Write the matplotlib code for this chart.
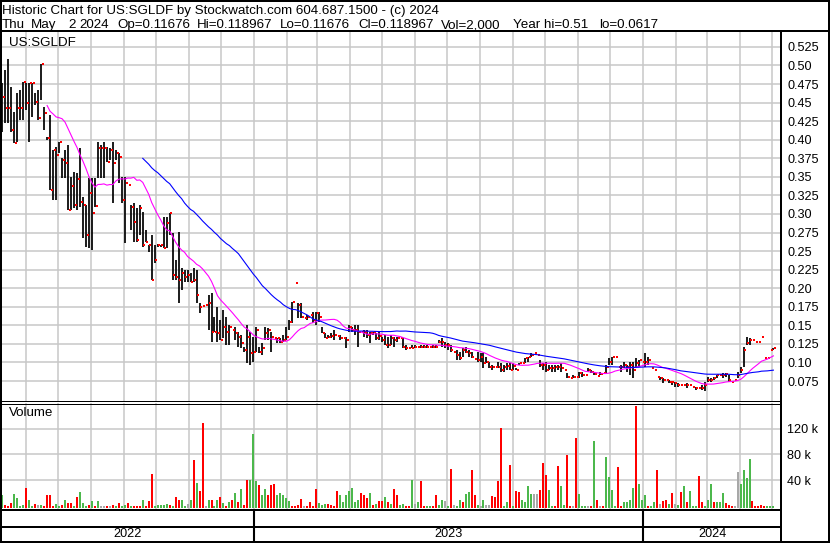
import numpy as np
import pandas as pd
import matplotlib
matplotlib.use("Agg")
import matplotlib.pyplot as plt
import matplotlib.dates as mdates
from matplotlib.lines import Line2D

plt.rcParams['font.family'] = ['Liberation Sans', 'DejaVu Sans']

# ---------------- data (one bar ~ every second trading day) ----------------
first_date = '2022-05-10'
last_date = '2024-05-02'

high = [
    .476, .494, .509, .471, .437, .463, .467, .478, .476, .476,
    .476, .463, .467, .502, .444, .403, .433, .386, .390, .397,
    .375, .386, .393, .350, .356, .355, .389, .323, .312, .348,
    .348, .348, .397, .393, .397, .390, .389, .397, .386, .382,
    .350, .350, .339, .312, .315, .308, .312, .303, .278, .258,
    .272, .258, .260, .258, .296, .296, .301, .274, .238, .276,
    .227, .224, .224, .220, .227, .224, .180, .176, .178, .191,
    .194, .161, .175, .157, .171, .161, .150, .144, .148, .141,
    .137, .121, .150, .141, .134, .148, .121, .126, .148, .146,
    .141, .133, .133, .133, .137, .148, .157, .181, .207, .180,
    .180, .160, .164, .164, .168, .168, .168, .148, .140, .137,
    .140, .144, .136, .137, .133, .134, .150, .148, .150, .150,
    .141, .144, .144, .141, .141, .140, .141, .134, .137, .134,
    .137, .134, .134, .133, .133, .1235, .1195, .1235, .1235, .121,
    .1235, .1235, .1235, .121, .1235, .1235, .130, .133, .128, .126,
    .1235, .114, .117, .114, .1195, .121, .117, .114, .104, .114,
    .113, .113, .107, .1006, .097, .094, .1006, .099, .0966, .099,
    .099, .099, .092, .099, .099, .106, .107, .113, .113, .110,
    .103, .099, .1006, .0966, .0966, .0966, .0966, .099, .090, .086,
    .079, .083, .080, .087, .087, .083, .0925, .090, .087, .082,
    .087, .086, .0966, .106, .107, .107, .094, .0966, .1006, .0966,
    .1006, .1006, .106, .103, .101, .113, .107, .0925, .090, .080,
    .080, .079, .077, .077, .0737, .0737, .0723, .0696, .0696, .0723,
    .0696, .067, .067, .0656, .0696, .0737, .080, .079, .080, .083,
    .083, .086, .086, .083, .0737, .077, .087, .094, .121, .134,
    .133, .130, .128, .128, .134, .106, .106, .117, .119,
]

low = [
    .410, .423, .423, .410, .396, .397, .427, .427, .440, .397,
    .430, .447, .427, .454, .413, .400, .332, .319, .319, .382,
    .348, .348, .305, .305, .308, .305, .309, .268, .255, .254,
    .251, .309, .348, .348, .348, .370, .373, .315, .373, .342,
    .315, .261, .339, .278, .262, .262, .272, .255, .262, .249,
    .211, .234, .255, .256, .254, .254, .272, .211, .211, .180,
    .198, .208, .208, .208, .208, .180, .167, .176, .178, .144,
    .128, .141, .128, .130, .133, .1235, .1235, .144, .130, .121,
    .119, .114, .099, .0966, .1006, .114, .113, .110, .130, .130,
    .114, .133, .126, .126, .128, .130, .144, .153, .207, .160,
    .160, .160, .157, .164, .153, .150, .154, .140, .133, .133,
    .133, .130, .136, .130, .133, .1195, .141, .141, .137, .121,
    .141, .134, .133, .126, .137, .130, .130, .128, .1235, .1195,
    .1235, .121, .128, .133, .1195, .117, .1195, .1195, .1195, .121,
    .1195, .1195, .1195, .121, .1195, .1195, .126, .121, .1195, .117,
    .114, .114, .103, .103, .107, .113, .107, .106, .104, .1006,
    .1006, .0925, .099, .0925, .090, .094, .0925, .087, .087, .090,
    .090, .090, .090, .0966, .099, .099, .1006, .107, .113, .110,
    .094, .090, .087, .090, .087, .087, .090, .087, .090, .079,
    .079, .079, .080, .079, .080, .083, .087, .086, .083, .082,
    .083, .086, .086, .0966, .0966, .107, .094, .087, .0925, .087,
    .083, .079, .094, .094, .101, .094, .0966, .0925, .090, .080,
    .077, .0723, .077, .0723, .0696, .067, .067, .0696, .0696, .0656,
    .0696, .067, .0629, .0656, .0629, .0617, .0737, .0737, .077, .079,
    .083, .079, .080, .0737, .0737, .077, .079, .086, .094, .1235,
    .1235, .130, .128, .128, .134, .106, .106, .117, .1168,
]

close = [
    .457, .443, .443, .413, .396, .443, .443, .478, .449, .476,
    .476, .451, .429, .502, .436, .402, .332, .386, .379, .397,
    .373, .369, .305, .338, .312, .347, .316, .312, .272, .328,
    .301, .311, .389, .389, .389, .370, .386, .369, .382, .377,
    .319, .342, .339, .309, .289, .265, .308, .258, .262, .258,
    .211, .238, .258, .258, .254, .288, .301, .218, .215, .211,
    .220, .215, .218, .208, .211, .191, .175, .176, .178, .180,
    .141, .141, .140, .130, .148, .141, .148, .144, .140, .134,
    .126, .117, .134, .113, .114, .144, .114, .1195, .140, .144,
    .134, .133, .133, .128, .130, .134, .154, .181, .207, .177,
    .161, .160, .161, .164, .157, .166, .161, .140, .133, .134,
    .136, .137, .136, .133, .133, .130, .148, .144, .144, .141,
    .141, .141, .137, .140, .141, .133, .136, .130, .1235, .1235,
    .133, .130, .133, .133, .121, .1195, .1195, .1195, .121, .121,
    .121, .121, .121, .121, .121, .121, .128, .128, .1235, .1235,
    .117, .114, .110, .106, .117, .114, .113, .107, .104, .103,
    .107, .099, .101, .094, .094, .094, .094, .090, .094, .095,
    .090, .095, .090, .099, .099, .106, .107, .110, .113, .110,
    .0966, .0966, .090, .0925, .092, .094, .094, .092, .090, .080,
    .079, .080, .080, .086, .083, .083, .090, .087, .085, .082,
    .084, .086, .094, .1006, .107, .107, .094, .094, .0966, .094,
    .0966, .090, .099, .103, .101, .1006, .103, .0925, .090, .080,
    .079, .077, .077, .0737, .0737, .0723, .070, .0696, .0696, .0696,
    .0696, .067, .0656, .0656, .0656, .0696, .077, .077, .079, .083,
    .083, .083, .084, .077, .0737, .077, .083, .090, .117, .126,
    .130, .130, .128, .128, .134, .106, .106, .117, .119,
]

volume_k = [
    17, 2, 0.5, 4.4, 19, 12, 0.5, 2, 27.5, 9.5,
    0.5, 3, 2, 2, 0.5, 17, 17, 0.5, 3, 0.5,
    2, 9.5, 4.4, 5.5, 0.5, 15, 22, 4.4, 0.5, 2,
    8, 0.5, 8, 0.5, 0.5, 1, 0.5, 2, 0.5, 4.4,
    0.5, 2, 4.4, 0.5, 1, 1, 1, 9.5, 0.5, 8,
    50, 1, 2, 2, 2, 3, 2, 0.5, 15, 9.5,
    9.5, 0.5, 3, 9.5, 71, 36, 23, 129, 0.5, 10,
    10, 0.5, 10, 15, 4.4, 0.5, 7, 9.5, 20, 7,
    26, 2, 40, 40, 112, 39, 32, 17, 27, 17,
    33, 35, 17, 20, 17, 12, 8, 0.5, 0.5, 2,
    11, 0.5, 0.5, 7, 1, 27, 5, 2, 3, 3,
    2, 1, 23, 17, 7, 17, 23, 27.5, 7, 10,
    21, 18, 12, 21, 2, 3, 8, 8, 15, 7,
    4, 26, 18, 2, 3, 1, 1, 41, 4, 6,
    39, 0.5, 0.5, 0.5, 0.5, 17, 2, 10, 8, 0.5,
    57, 2, 0.5, 10, 7, 19, 22, 56, 17, 2,
    0.5, 10, 2, 2, 16, 15, 39, 121, 0.5, 7,
    63.5, 0.5, 23, 22, 9.5, 7, 31, 19, 19, 19,
    25, 67, 48, 25, 0.5, 0.5, 62.5, 31.6, 2, 79,
    0.5, 0.5, 106, 19, 0.5, 0.5, 0.5, 0.5, 100, 9.5,
    0.5, 0.5, 76, 45.6, 25, 0.5, 61, 0.5, 7, 6,
    10, 27.5, 154, 34, 10, 17, 0.5, 0.5, 7, 56,
    3, 8, 9.5, 3, 20, 3, 2, 22.5, 31.6, 7,
    23, 0.5, 0.5, 47, 6, 0.5, 10, 35, 7, 7,
    7, 21, 5, 2, 0.5, 0.5, 53, 34, 56, 44,
    73, 8, 1, 0.5, 2, 0.5, 0.5, 0.5, 0.5,
]

# G = up day, R = down day, A = unchanged
volume_dir = (
    "GRRRGGGGRG" "GRAGRRRRGG" "RGRRGRGGGR" "GRGAARARGR"
    "GGRGRRRGRR" "RGGGGGRGRR" "GGAGRGRRAG" "RGGRGRGRGR"
    "GRRGGGRGGR" "RRGGGGGRRR" "RARRRRGGGR" "RRRGGGGGGG"
    "RRRGRGRRGR" "GRRGGRRGAG" "RRGGRRGGAG" "RAGGRGGRRG"
    "AGAARRRRGG" "RGRRGGGGAA" "RRRGGRRGGR" "RARGGGARGR"
    "ARGGGGRRGG" "GGRGGGRGGR" "ARRGRAGRGR" "GGGRRGGGRG"
    "GGRRRAAGGG" "GRRRRRGGG"
)

price_ticks = [0.525, 0.50, 0.475, 0.45, 0.425, 0.40, 0.375, 0.35, 0.325,
               0.30, 0.275, 0.25, 0.225, 0.20, 0.175, 0.15, 0.125, 0.10, 0.075]
price_labels = ['0.525', '0.50', '0.475', '0.45', '0.425', '0.40', '0.375', '0.35',
                '0.325', '0.30', '0.275', '0.25', '0.225', '0.20', '0.175', '0.15',
                '0.125', '0.10', '0.075']
vol_ticks = [40000, 80000, 120000]
vol_labels = ['40 k', '80 k', '120 k']
year_labels = ['2022', '2023', '2024']

title_line = "Historic Chart for US:SGLDF by Stockwatch.com 604.687.1500 - (c) 2024"
info_chunks = ["Thu", "May", "2", "2024", "Op=0.11676", "Hi=0.118967", "Lo=0.11676",
               "Cl=0.118967", "Vol=2,000", "Year hi=0.51", "lo=0.0617"]
symbol = "US:SGLDF"

# ---------------- layout helpers ----------------
W, H = 830, 543
fig = plt.figure(figsize=(W / 100, H / 100), dpi=100)
fig.patch.set_facecolor('white')

def fx(x):
    return x / W

def fy(y):
    return 1 - y / H

def box(x0, y0, x1, y1):
    return [fx(x0), fy(y1), fx(x1) - fx(x0), fy(y0) - fy(y1)]

def hline(y, x0, x1, lw_px):
    fig.add_artist(Line2D([fx(x0), fx(x1)], [fy(y), fy(y)], transform=fig.transFigure,
                          color='black', lw=lw_px * 0.72, solid_capstyle='butt'))

def vline(x, y0, y1, lw_px):
    fig.add_artist(Line2D([fx(x), fx(x)], [fy(y0), fy(y1)], transform=fig.transFigure,
                          color='black', lw=lw_px * 0.72, solid_capstyle='butt'))

PX_PER_DAY = 389.3 / 365.0
ref = mdates.date2num(pd.Timestamp('2023-01-01'))

def px2date(px):
    return ref + (px - 254.0) / PX_PER_DAY

xlim = (px2date(2), px2date(781))
n = len(close)
xs = np.linspace(mdates.date2num(pd.Timestamp(first_date)),
                 mdates.date2num(pd.Timestamp(last_date)), n)
months = mdates.date2num(pd.date_range('2022-06-01', '2024-05-01', freq='MS'))
FS_TXT = 9.6     # header / labels (~13 px)
FS_NUM = 9.1     # axis numbers
GRID = '#c8c8c8'

# ---------------- price panel ----------------
ax = fig.add_axes(box(2, 31, 781, 401))
ax.set_xlim(xlim)
ax.set_ylim(0.075 - 20 / 742.4, 0.075 + 350 / 742.4)
for s in ax.spines.values():
    s.set_visible(False)
ax.set_xticks(months)
ax.set_yticks(price_ticks)
ax.yaxis.tick_right()
ax.set_yticklabels(price_labels, fontsize=FS_NUM)
ax.tick_params(axis='y', length=0, pad=4.5, labelright=True, labelleft=False)
ax.tick_params(axis='x', length=0, labelbottom=False)
ax.grid(True, color=GRID, lw=1.1)
ax.set_axisbelow(True)

ax.vlines(xs, low, high, color='black', lw=1.25, zorder=2)
ax.scatter(xs + 1.7 / PX_PER_DAY, close, marker='s', s=4.4, c='#ff0000',
           linewidths=0, zorder=3)
cs = pd.Series(close)
ax.plot(xs, cs.rolling(16).mean(), color='#ff00ff', lw=0.8, zorder=4)
ax.plot(xs, cs.rolling(48).mean(), color='#0000ff', lw=0.8, zorder=4)

# ---------------- volume panel ----------------
av = fig.add_axes(box(2, 403, 781, 509))
av.set_xlim(xlim)
av.set_ylim(-4300, 159400)
for s in av.spines.values():
    s.set_visible(False)
av.set_xticks(months)
av.set_yticks(vol_ticks)
av.yaxis.tick_right()
av.set_yticklabels(vol_labels, fontsize=FS_NUM)
av.tick_params(axis='y', length=0, pad=4.5, labelright=True, labelleft=False)
av.tick_params(axis='x', length=0, labelbottom=False)
av.grid(True, color=GRID, lw=1.1)
av.set_axisbelow(True)

cmap = {'G': '#4cb84c', 'R': '#ff0000', 'A': '#a8a8a8'}
vcols = [cmap[c] for c in volume_dir]
vol = np.array(volume_k) * 1000
av.bar(xs, vol + 3000, bottom=-3000, width=2.0 / PX_PER_DAY, color=vcols,
       linewidth=0, zorder=2)

# ---------------- year strip ----------------
ay = fig.add_axes(box(2, 509, 781, 541))
ay.set_xlim(xlim)
ay.set_ylim(0, 1)
ay.axis('off')
bounds = [xlim[0], mdates.date2num(pd.Timestamp('2023-01-01')),
          mdates.date2num(pd.Timestamp('2024-01-01')), xlim[1]]
for i, lab in enumerate(year_labels):
    ay.text((bounds[i] + bounds[i + 1]) / 2, 7 / 32, lab, ha='center', va='center',
            fontsize=FS_NUM)
for b in bounds[1:3]:
    ay.axvline(b, color='black', lw=1.5)

# ---------------- frame lines ----------------
hline(1, 0, 830, 2)
hline(31, 0, 830, 2)
vline(1, 0, 543, 2)
vline(781, 31, 543, 2)
vline(828.5, 0, 543, 2)
hline(541.5, 0, 830, 2)
hline(401, 0, 781, 1)
hline(403.5, 0, 781, 1)
hline(509.5, 0, 781, 2)
hline(527, 0, 781, 2)

# ---------------- texts ----------------
fig.text(fx(2), fy(14), title_line, fontsize=FS_TXT, va='baseline', ha='left')
chunk_x = [2, 31, 68, 79, 117, 197, 280, 358, 441, 513, 599]
for cx, t in zip(chunk_x, info_chunks):
    fig.text(fx(cx), fy(28), t, fontsize=FS_TXT, va='baseline', ha='left')
fig.text(fx(9), fy(43), symbol, fontsize=FS_TXT, va='center', ha='left')
fig.text(fx(9), fy(413), "Volume", fontsize=FS_TXT, va='center', ha='left')

fig.savefig('out.png', dpi=100, facecolor='white')
